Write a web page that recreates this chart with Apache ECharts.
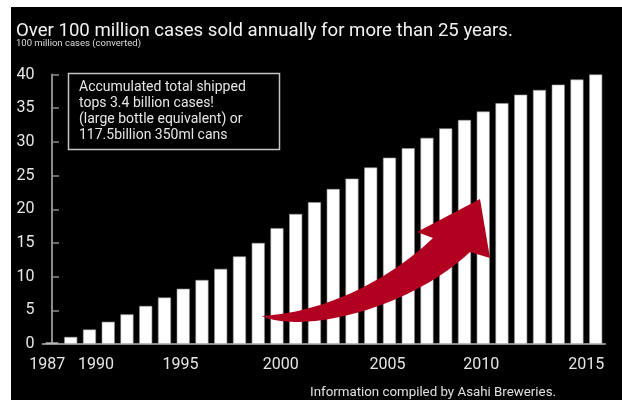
<!DOCTYPE html>
<html>
<head>
<meta charset="utf-8">
<title>Cumulative shipments</title>
<script src="https://cdn.jsdelivr.net/npm/echarts/dist/echarts.min.js"></script>
<style>
  html, body { margin: 0; padding: 0; background: #ffffff; }
  #chart { width: 622px; height: 400px; }
</style>
</head>
<body>
<div id="chart"></div>
<script>
// Cumulative shipments, in units of 100 million cases (converted)
const years = ['1987', '1988', '1989', '1990', '1991', '1992', '1993', '1994', '1995', '1996',
               '1997', '1998', '1999', '2000', '2001', '2002', '2003', '2004', '2005', '2006',
               '2007', '2008', '2009', '2010', '2011', '2012', '2013', '2014', '2015', '2016'];
const cumulativeCases = [0.25, 1.05, 2.15, 3.3, 4.4, 5.65, 6.9, 8.2, 9.5, 11.15,
                         13.0, 15.0, 17.2, 19.3, 21.05, 23.0, 24.55, 26.2, 27.65, 29.05,
                         30.6, 32.0, 33.25, 34.5, 35.75, 37.0, 37.7, 38.5, 39.25, 40.0];
const yearTickLabels = ['1987', '1990', '1995', '2000', '2005', '2010', '2015'];
const valueTicks = [0, 5, 10, 15, 20, 25, 30, 35, 40];

const titleText = 'Over 100 million cases sold annually for more than 25 years.';
const unitText = '100 million cases (converted)';
const noteLines = ['Accumulated total shipped', 'tops 3.4 billion cases!',
                   '(large bottle equivalent) or', '117.5billion 350ml cans'];
const sourceText = 'Information compiled by Asahi Breweries.';

// Layout: where each year label sits along the bar slots (slot 0 = first bar)
const yearLabelSlots = [-0.25, 2.35, 6.85, 12.2, 17.9, 22.9, 28.5];

const FONT = 'Roboto, "Noto Sans", sans-serif';
const AXIS_GREY = '#8c8c8c';
const LABEL = '#e6e6e6';

// Flatten a chain of cubic Bézier segments into polygon points for the arrow outline
function outline(start, segments, steps) {
  const pts = [start];
  let p0 = start;
  segments.forEach(seg => {
    if (seg.length === 1) { pts.push(seg[0]); p0 = seg[0]; return; }
    const [c1, c2, p3] = seg;
    for (let k = 1; k <= steps; k++) {
      const t = k / steps, u = 1 - t;
      pts.push([
        u * u * u * p0[0] + 3 * u * u * t * c1[0] + 3 * u * t * t * c2[0] + t * t * t * p3[0],
        u * u * u * p0[1] + 3 * u * u * t * c1[1] + 3 * u * t * t * c2[1] + t * t * t * p3[1]
      ]);
    }
    p0 = p3;
  });
  return pts;
}

const arrowPoints = outline([262, 316], [
  [[330, 312], [395, 275], [433, 238]],
  [[417, 232]],
  [[480, 199]],
  [[490, 258]],
  [[470, 252]],
  [[430, 290], [360, 320], [300, 322]],
  [[283, 322], [270, 320], [262, 316]]
], 24);

const chart = echarts.init(document.getElementById('chart'), null, { renderer: 'canvas' });

chart.setOption({
  backgroundColor: '#ffffff',
  animation: false,
  grid: { left: 42.6, right: 16.9, top: 74.5, bottom: 56, containLabel: false },
  xAxis: [
    {
      type: 'category',
      data: years,
      position: 'bottom',
      boundaryGap: true,
      axisLine: { show: true, lineStyle: { color: AXIS_GREY, width: 2 } },
      axisTick: { show: false },
      axisLabel: { show: false },
      splitLine: { show: false }
    },
    {
      type: 'value',
      position: 'bottom',
      min: -0.5,
      max: years.length - 0.5,
      axisLine: { show: false },
      axisTick: { show: false },
      splitLine: { show: false },
      axisLabel: {
        show: true,
        customValues: yearLabelSlots,
        margin: 13,
        color: LABEL,
        fontFamily: FONT,
        fontSize: 16,
        formatter: function (v) {
          const i = yearLabelSlots.findIndex(s => Math.abs(s - v) < 1e-6);
          return i >= 0 ? yearTickLabels[i] : '';
        }
      }
    }
  ],
  yAxis: {
    type: 'value',
    min: valueTicks[0],
    max: valueTicks[valueTicks.length - 1],
    interval: valueTicks[1] - valueTicks[0],
    axisLine: { show: true, lineStyle: { color: AXIS_GREY, width: 2 } },
    axisTick: { show: true, inside: true, length: 7, lineStyle: { color: AXIS_GREY, width: 1.5 } },
    splitLine: { show: false },
    axisLabel: { color: LABEL, fontFamily: FONT, fontSize: 16, margin: 8 }
  },
  series: [
    {
      type: 'bar',
      xAxisIndex: 0,
      data: cumulativeCases,
      barWidth: 13,
      itemStyle: { color: '#ffffff', borderColor: '#9a9a9a', borderWidth: 0.6 },
      z: 2
    }
  ],
  graphic: [
    // dark panel behind the whole chart
    { type: 'rect', z: -10, silent: true,
      shape: { x: 11, y: 7, width: 611, height: 393 },
      style: { fill: '#000000' } },
    { type: 'text', z: 5, x: 16, y: 31,
      style: { text: titleText, fill: '#f2f2f2', font: '18.6px ' + FONT, verticalAlign: 'middle' } },
    { type: 'text', z: 5, x: 16, y: 44,
      style: { text: unitText, fill: '#dcdcdc', font: '9.5px ' + FONT, verticalAlign: 'middle' } },
    // note box
    { type: 'rect', z: 5,
      shape: { x: 68.5, y: 73.5, width: 211, height: 76 },
      style: { fill: 'none', stroke: '#c4c4c4', lineWidth: 1.5 } },
    { type: 'text', z: 5, x: 79, y: 79,
      style: { text: noteLines.join('\n'), fill: '#e6e6e6', font: '14px ' + FONT,
               lineHeight: 16, verticalAlign: 'top' } },
    // upward sweeping arrow
    { type: 'polygon', z: 10, silent: true,
      shape: { points: arrowPoints },
      style: { fill: '#b10020' } },
    { type: 'text', z: 5, x: 556, y: 393,
      style: { text: sourceText, fill: '#e0e0e0', font: '13.3px ' + FONT,
               align: 'right', verticalAlign: 'middle' } }
  ]
});
</script>
</body>
</html>
